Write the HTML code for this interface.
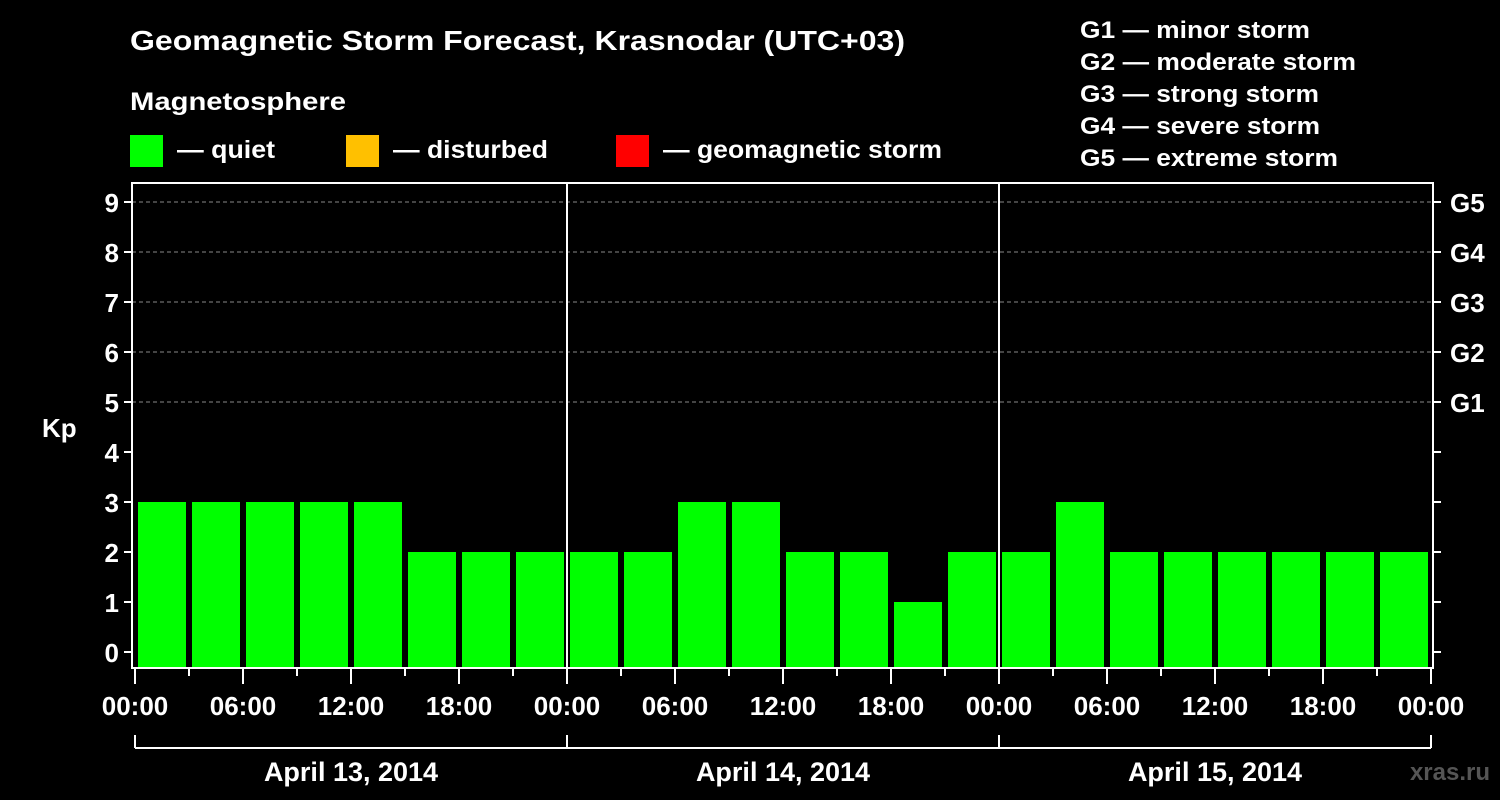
<!DOCTYPE html>
<html><head><meta charset="utf-8"><style>
body{margin:0;background:#000;width:1500px;height:800px;overflow:hidden}
svg{display:block;font-family:"Liberation Sans",Arial,sans-serif;font-weight:bold;fill:#fff}
</style></head><body>
<svg id="chart" width="1500" height="800" viewBox="0 0 1500 800">
<text x="130" y="50" font-size="28" textLength="775" lengthAdjust="spacingAndGlyphs">Geomagnetic Storm Forecast, Krasnodar (UTC+03)</text>
<text x="130" y="110" font-size="25" textLength="216" lengthAdjust="spacingAndGlyphs">Magnetosphere</text>
<g>
<rect x="130" y="135" width="33" height="32" fill="#00ff00"/>
<text x="177" y="158" font-size="25" textLength="98" lengthAdjust="spacingAndGlyphs">— quiet</text>
<rect x="346" y="135" width="33" height="32" fill="#ffc000"/>
<text x="393" y="158" font-size="25" textLength="155" lengthAdjust="spacingAndGlyphs">— disturbed</text>
<rect x="616" y="135" width="33" height="32" fill="#ff0000"/>
<text x="663" y="158" font-size="25" textLength="279" lengthAdjust="spacingAndGlyphs">— geomagnetic storm</text>
</g>
<g font-size="24">
<text x="1080" y="38" textLength="230" lengthAdjust="spacingAndGlyphs">G1 — minor storm</text>
<text x="1080" y="70" textLength="276" lengthAdjust="spacingAndGlyphs">G2 — moderate storm</text>
<text x="1080" y="102" textLength="239" lengthAdjust="spacingAndGlyphs">G3 — strong storm</text>
<text x="1080" y="134" textLength="240" lengthAdjust="spacingAndGlyphs">G4 — severe storm</text>
<text x="1080" y="166" textLength="258" lengthAdjust="spacingAndGlyphs">G5 — extreme storm</text>
</g>
<text x="42" y="437" font-size="26">Kp</text>
<text x="1490" y="780" font-size="24" text-anchor="end" style="fill:#555">xras.ru</text>
<g id="plot"></g>
</svg>
<script>
const days = ["April 13, 2014","April 14, 2014","April 15, 2014"];
const kpValues = [3,3,3,3,3,2,2,2, 2,2,3,3,2,2,1,2, 2,3,2,2,2,2,2,2];
const yTicks = [0,1,2,3,4,5,6,7,8,9];
const gLabels = ["G1","G2","G3","G4","G5"];
const timeLabels = ["00:00","06:00","12:00","18:00"];

const ns="http://www.w3.org/2000/svg";
const plot=document.getElementById('plot');
const X0=135, DAY=432, pLeft=132, pRight=1433, pTop=183, pBottom=668;
const xs=h=>X0+h*DAY/24;
const ys=v=>652-v*50;
function mk(t,a){const e=document.createElementNS(ns,t);for(const k in a)e.setAttribute(k,a[k]);plot.appendChild(e);return e;}
for(const v of yTicks){
  if(v>=5){const g=mk('line',{x1:pLeft,x2:pRight,y1:ys(v),y2:ys(v),stroke:'#888','stroke-dasharray':'4,3','stroke-width':1});
  
  }
  const t=mk('line',{x1:pLeft-8,x2:pLeft,y1:ys(v),y2:ys(v),stroke:'#fff','stroke-width':2});
  
  
  const r=mk('line',{x1:pRight,x2:pRight+8,y1:ys(v),y2:ys(v),stroke:'#fff','stroke-width':2});
  
  
  const l=mk('text',{x:pLeft-13,y:ys(v)+10,'font-size':26,'text-anchor':'end'});l.textContent=v;
  
  
}
gLabels.forEach((g,i)=>{const l=mk('text',{x:1450,y:ys(5+i)+10,'font-size':26});l.textContent=g;
  
  });
kpValues.forEach((v,i)=>{
  const b=mk('rect',{x:xs(i*3)+3,y:ys(v),width:DAY/8-6,height:pBottom-ys(v),fill:'#00ff00'});
  
  
});
for(let d=1;d<days.length;d++){const s=mk('line',{x1:xs(24*d),x2:xs(24*d),y1:pTop,y2:pBottom,stroke:'#fff','stroke-width':2});
  
  }
const f=mk('rect',{x:pLeft,y:pTop,width:pRight-pLeft,height:pBottom-pTop,fill:'none',stroke:'#fff','stroke-width':2});


for(let h=0;h<=72;h+=3){
  const major=h%6===0;
  const t=mk('line',{x1:xs(h),x2:xs(h),y1:pBottom,y2:pBottom+(major?16:8),stroke:'#fff','stroke-width':2});
  
  
  if(major){const l=mk('text',{x:xs(h),y:715,'font-size':26,'text-anchor':'middle'});l.textContent=timeLabels[(h/6)%4];
    
    }
}
const br=mk('line',{x1:xs(0),x2:xs(72),y1:748,y2:748,stroke:'#fff','stroke-width':2});


for(let d=0;d<=days.length;d++){const v=mk('line',{x1:xs(24*d),x2:xs(24*d),y1:735,y2:748,stroke:'#fff','stroke-width':2});
  
  }
days.forEach((d,i)=>{const l=mk('text',{x:xs(24*i+12),y:781,'font-size':27,'text-anchor':'middle'});l.textContent=d;
  
  });
</script>
</body></html>
